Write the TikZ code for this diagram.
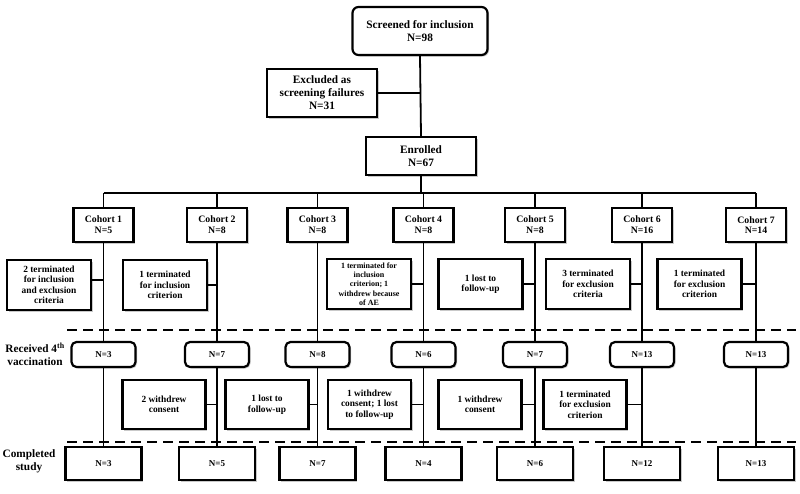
\documentclass[tikz,border=0pt]{standalone}
\usepackage{fontspec}
\setmainfont{Liberation Serif}
\usetikzlibrary{shadows}
\begin{document}
\begin{tikzpicture}[x=1pt,y=-1pt,
  bx/.style={draw, line width=2.2pt, fill=white, align=center, inner sep=1pt,
    font=\bfseries\fontsize{9.4}{10.5}\selectfont,
    drop shadow={shadow xshift=1.5pt, shadow yshift=-1.5pt, opacity=0.35, fill=black!60}},
  big/.style={bx, font=\bfseries\fontsize{11.3}{13}\selectfont},
  coh/.style={bx, font=\bfseries\fontsize{9.8}{10.8}\selectfont, minimum width=60pt, minimum height=34pt},
  side/.style={bx, minimum width=84pt, minimum height=50pt},
  rnd/.style={bx, font=\bfseries\fontsize{9}{10}\selectfont, rounded corners=5pt, minimum width=64pt, minimum height=25pt},
  fin/.style={bx, font=\bfseries\fontsize{9}{10}\selectfont, minimum width=76pt, minimum height=33pt},
  ln/.style={line width=1.8pt},
  dsh/.style={line width=2.2pt, dash pattern=on 10pt off 6pt},
  lab/.style={align=center, font=\bfseries\fontsize{11.3}{13}\selectfont, inner sep=0pt}
]
\useasboundingbox (0,0) rectangle (800,493);
\fill[white] (0,0) rectangle (800,493);

% top
\node[big, rounded corners=6pt, minimum width=135pt, minimum height=48pt] (scr) at (420,31) {Screened for inclusion\\N=98};
\node[big, minimum width=110pt, minimum height=48pt] (exc) at (322,93) {Excluded as\\screening failures\\N=31};
\node[big, minimum width=110pt, minimum height=38pt] (enr) at (421,156) {Enrolled\\N=67};

% bus
\coordinate (busL) at (103.5,193);
\coordinate (busR) at (756,193);
\coordinate (busE) at (421,193);

% cohorts
\node[coh] (c1) at (103.5,225) {Cohort 1\\N=5};
\node[coh] (c2) at (217,225) {Cohort 2\\N=8};
\node[coh] (c3) at (317.5,225) {Cohort 3\\N=8};
\node[coh] (c4) at (423.5,225) {Cohort 4\\N=8};
\node[coh] (c5) at (535,225) {Cohort 5\\N=8};
\node[coh] (c6) at (642,225) {Cohort 6\\N=16};
\node[coh] (c7) at (756,225) {Cohort 7\\N=14};

% side row 1
\node[side] (s1) at (49,285) {2 terminated\\for inclusion\\and exclusion\\criteria};
\node[side] (s2) at (165,285) {1 terminated\\for inclusion\\criterion};
\node[side, font=\bfseries\fontsize{8}{9.3}\selectfont] (s4) at (369,284) {1 terminated for\\inclusion\\criterion; 1\\withdrew because\\of AE};
\node[side] (s5) at (480.5,284) {1 lost to\\follow-up};
\node[side] (s6) at (588,284) {3 terminated\\for exclusion\\criteria};
\node[side] (s7) at (699.5,284) {1 terminated\\for exclusion\\criterion};

% row 2
\node[rnd] (r1) at (103.5,354.5) {N=3};
\node[rnd] (r2) at (217,354.5) {N=7};
\node[rnd] (r3) at (317.5,354.5) {N=8};
\node[rnd] (r4) at (423.5,354.5) {N=6};
\node[rnd] (r5) at (535,354.5) {N=7};
\node[rnd] (r6) at (642,354.5) {N=13};
\node[rnd] (r7) at (756,354.5) {N=13};

% side row 2
\node[side, minimum width=83pt, minimum height=49pt] (t2) at (164,404.5) {2 withdrew\\consent};
\node[side, minimum width=83pt, minimum height=49pt] (t3) at (267,404.5) {1 lost to\\follow-up};
\node[side, minimum width=83pt, minimum height=49pt] (t4) at (369.5,404.5) {1 withdrew\\consent; 1 lost\\to follow-up};
\node[side, minimum width=83pt, minimum height=49pt] (t5) at (480,404.5) {1 withdrew\\consent};
\node[side, minimum width=83pt, minimum height=49pt] (t6) at (585,404.5) {1 terminated\\for exclusion\\criterion};

% completed
\node[fin] (b1) at (103.5,463.5) {N=3};
\node[fin] (b2) at (217,463.5) {N=5};
\node[fin] (b3) at (317.5,463.5) {N=7};
\node[fin] (b4) at (423.5,463.5) {N=4};
\node[fin] (b5) at (535,463.5) {N=6};
\node[fin] (b6) at (642,463.5) {N=12};
\node[fin] (b7) at (756,463.5) {N=13};

% labels
\node[lab] (lr) at (35,354) {Received 4\textsuperscript{th}\\vaccination};
\node[lab] (lc) at (29,461) {Completed\\study};

% dashed lines
\coordinate (d1L) at (67,330);
\coordinate (d1R) at (796,330);
\coordinate (d2L) at (67,442);
\coordinate (d2R) at (796,442);

% connectors
\draw[ln] (scr.south) -- (enr.north);
\draw[ln] (exc.east) -- (exc.east -| scr.south);
\draw[ln] (enr.south) -- (busE);
\draw[ln] (busL) -- (busR);
\foreach \c in {c1,c2,c3,c4,c5,c6,c7} {
  \draw[ln] (\c.north |- busL) -- (\c.north);
}
\foreach \c/\r/\b in {c1/r1/b1,c2/r2/b2,c3/r3/b3,c4/r4/b4,c5/r5/b5,c6/r6/b6,c7/r7/b7} {
  \draw[ln] (\c.south) -- (\r.north);
  \draw[ln] (\r.south) -- (\b.north);
}
\draw[ln] (s1.east) ++(0,-5) coordinate (s1e) -- (s1e -| c1.south);
\draw[ln] (s2.east) -- (s2.east -| c2.south);
\draw[ln] (s4.east) -- (s4.east -| c4.south);
\draw[ln] (s5.east) -- (s5.east -| c5.south);
\draw[ln] (s6.east) -- (s6.east -| c6.south);
\draw[ln] (s7.east) -- (s7.east -| c7.south);
\draw[ln] (t2.east) -- (t2.east -| r2.south);
\draw[ln] (t3.east) -- (t3.east -| r3.south);
\draw[ln] (t4.east) -- (t4.east -| r4.south);
\draw[ln] (t5.east) -- (t5.east -| r5.south);
\draw[ln] (t6.east) -- (t6.east -| r6.south);

\draw[dsh] (d1L) -- (d1R);
\draw[dsh] (d2L) -- (d2R);
\end{tikzpicture}
\end{document}
